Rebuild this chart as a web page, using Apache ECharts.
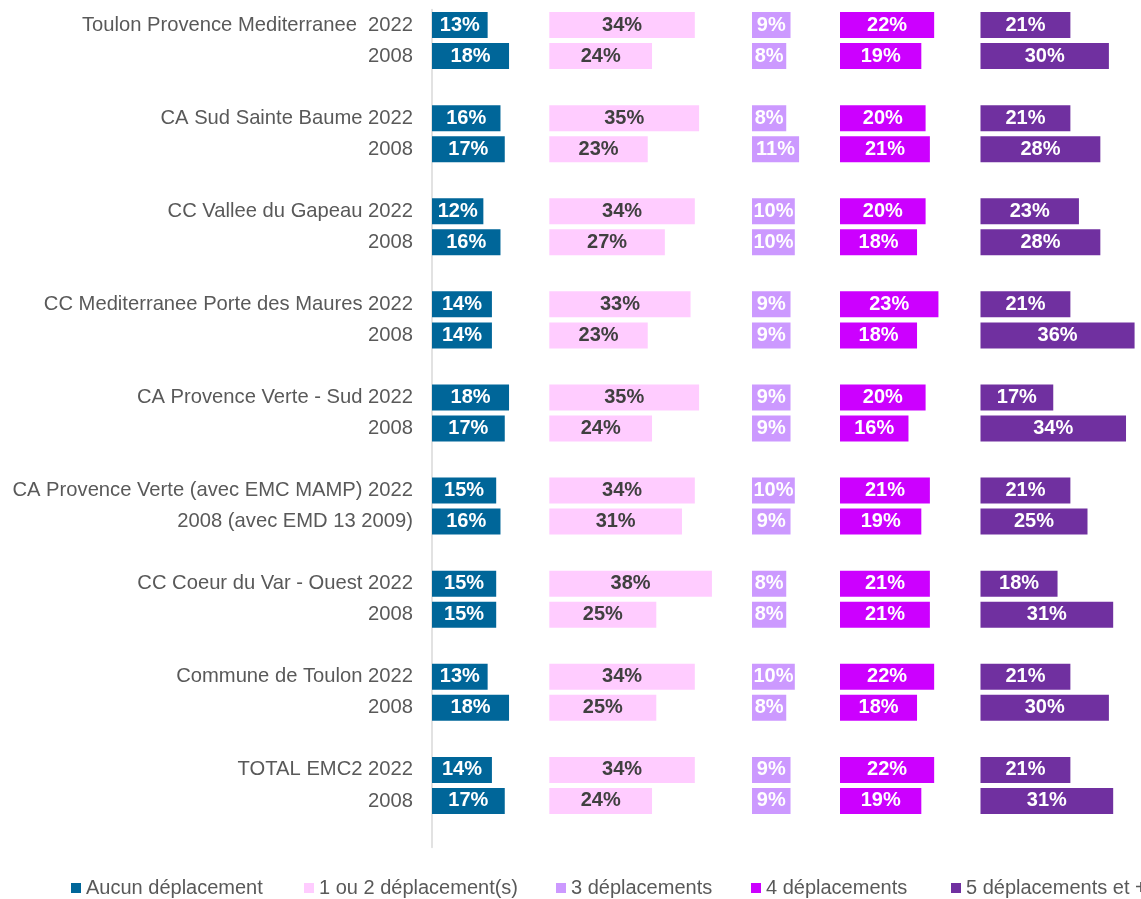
<!DOCTYPE html>
<html><head><meta charset="utf-8">
<script src="https://cdn.jsdelivr.net/npm/echarts@6/dist/echarts.min.js"></script>
<style>html,body{margin:0;padding:0;background:#fff}#c{width:1141px;height:899px}</style>
</head><body><div id="c"></div>
<script>
// ---- data ----
const rowLabels = [
  'Toulon Provence Mediterranee  2022', '2008',
  'CA Sud Sainte Baume 2022', '2008',
  'CC Vallee du Gapeau 2022', '2008',
  'CC Mediterranee Porte des Maures 2022', '2008',
  'CA Provence Verte - Sud 2022', '2008',
  'CA Provence Verte (avec EMC MAMP) 2022', '2008 (avec EMD 13 2009)',
  'CC Coeur du Var - Ouest 2022', '2008',
  'Commune de Toulon 2022', '2008',
  'TOTAL EMC2 2022', '2008'
];
const seriesNames = ['Aucun déplacement', '1 ou 2 déplacement(s)', '3 déplacements', '4 déplacements', '5 déplacements et +'];
const aucun    = [13,18, 16,17, 12,16, 14,14, 18,17, 15,16, 15,15, 13,18, 14,17];
const unOuDeux = [34,24, 35,23, 34,27, 33,23, 35,24, 34,31, 38,25, 34,25, 34,24];
const trois    = [9,8, 8,11, 10,10, 9,9, 9,9, 10,9, 8,8, 10,8, 9,9];
const quatre   = [22,19, 20,21, 20,18, 23,18, 20,16, 21,19, 21,21, 22,18, 22,19];
const cinq     = [21,30, 21,28, 23,28, 21,36, 17,34, 21,25, 18,31, 21,30, 21,31];

// ---- layout ----
const colors = ['#006699', '#FFCCFF', '#CC99FF', '#CC00FF', '#7030A0'];
const labelColors = ['#ffffff', '#404040', '#ffffff', '#ffffff', '#ffffff'];
const colStart = [432, 549.3, 752, 840, 980.5];
const axisMax = [30, 40, 30, 30, 37];
const pxPerUnit = 4.28;
const legendLeft = [71, 304, 556, 751, 951];
const FONT = "'Liberation Sans', Arial, sans-serif";

function spaced(arr, blank) {
  const out = [];
  arr.forEach((v, i) => { out.push(v); if (i % 2 === 1) out.push(blank); });
  return out;
}
const cats = spaced(rowLabels, '');
const allSeries = [aucun, unOuDeux, trois, quatre, cinq];

const grids = [], xAxes = [], yAxes = [], series = [], legends = [];
allSeries.forEach((vals, i) => {
  grids.push({ left: colStart[i], top: 9.5, height: 838, width: axisMax[i] * pxPerUnit, containLabel: false });
  xAxes.push({ gridIndex: i, type: 'value', min: 0, max: axisMax[i], show: false });
  yAxes.push({
    gridIndex: i, type: 'category', inverse: true, data: cats,
    axisLine: { show: i === 0, lineStyle: { color: '#d9d9d9', width: 1.5 } },
    axisTick: { show: false },
    axisLabel: { show: i === 0, color: '#595959', fontSize: 20.2, fontFamily: FONT, margin: 19 },
    splitLine: { show: false }
  });
  series.push({
    name: seriesNames[i], type: 'bar', xAxisIndex: i, yAxisIndex: i,
    data: spaced(vals, '-'), barWidth: 26,
    itemStyle: { color: colors[i] },
    label: { show: true, position: 'inside', formatter: '{c}%', color: labelColors[i],
             fontSize: 20, fontWeight: 'bold', fontFamily: FONT },
    emphasis: { disabled: true }
  });
  legends.push({
    data: [seriesNames[i]], left: legendLeft[i], top: 878, padding: 0,
    itemWidth: 10, itemHeight: 10, icon: 'rect', selectedMode: false,
    textStyle: { color: '#595959', fontSize: 20, fontFamily: FONT }
  });
});

const chart = echarts.init(document.getElementById('c'), null, { renderer: 'canvas' });
chart.setOption({
  backgroundColor: '#ffffff', animation: false,
  color: colors,
  grid: grids, xAxis: xAxes, yAxis: yAxes, series: series, legend: legends
});
</script></body></html>
